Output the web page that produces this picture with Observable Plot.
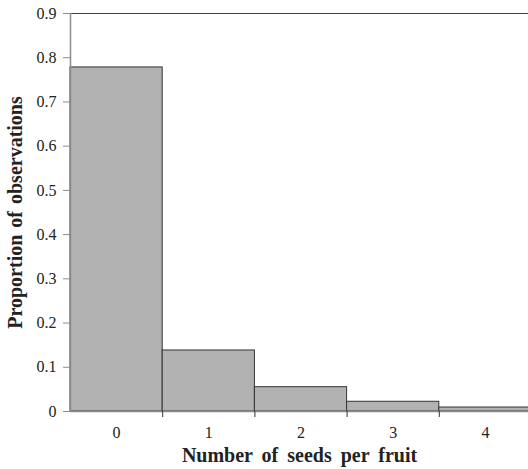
<!DOCTYPE html>
<html>
<head>
<meta charset="utf-8">
<script src="https://cdn.jsdelivr.net/npm/d3@7"></script>
<script src="https://cdn.jsdelivr.net/npm/@observablehq/plot@0.6"></script>
<style>
  html, body { margin: 0; padding: 0; background: white; overflow: hidden; }
  #chart svg { display: block; }
</style>
</head>
<body>
<div id="chart"></div>
<script>
const seeds = [0, 1, 2, 3, 4];
const proportions = [0.778, 0.138, 0.055, 0.022, 0.009];
const yTicks = [0, 0.1, 0.2, 0.3, 0.4, 0.5, 0.6, 0.7, 0.8, 0.9];
const xTitle = "Number of seeds per fruit";
const yTitle = "Proportion of observations";

const data = seeds.map((s, i) => ({seeds: s, prop: proportions[i]}));
const boundaries = seeds.slice(1).map(s => s - 0.5);

const font = "Liberation Serif";

const plot = Plot.plot({
  width: 528,
  height: 469,
  marginTop: 13,
  marginBottom: 58,
  marginLeft: 70,
  marginRight: 0,
  style: {fontFamily: font, fontSize: "16px", color: "#222", background: "white"},
  x: {domain: [-0.5, 4.5], range: [70, 531]},
  y: {domain: [0, 0.9], range: [411, 13]},
  marks: [
    Plot.rectY(data, {
      x1: d => d.seeds - 0.5,
      x2: d => d.seeds + 0.5,
      y: "prop",
      fill: "#b2b2b2",
      stroke: "#333",
      strokeWidth: 1
    }),
    Plot.ruleY([0.9], {stroke: "#404040", strokeWidth: 1.2}),
    Plot.ruleY([0], {stroke: "#8c8c8c", strokeWidth: 1.5}),
    Plot.ruleX([-0.5], {stroke: "#8c8c8c", strokeWidth: 1.5}),
    Plot.axisY({
      ticks: yTicks,
      tickSize: 7,
      tickPadding: 7,
      stroke: "#8c8c8c",
      fill: "#222",
      fontSize: 16,
      tickFormat: d => d === 0 ? "0" : d.toFixed(1),
      label: yTitle,
      labelAnchor: "center",
      labelOffset: 63,
      labelArrow: "none"
    }),
    Plot.axisX({
      ticks: boundaries,
      tickSize: 6,
      tickFormat: () => "",
      stroke: "#333",
      label: null
    }),
    Plot.axisX({
      ticks: seeds,
      tickSize: 0,
      tickPadding: 15,
      fill: "#222",
      fontSize: 16,
      tickFormat: d => String(d),
      label: xTitle,
      labelAnchor: "center",
      labelOffset: 50,
      labelArrow: "none"
    })
  ]
});

plot.querySelectorAll("text").forEach(t => {
  t.setAttribute("font-family", font);
  t.setAttribute("font-size", "16");
  t.style.fontFamily = font;
  t.style.fontSize = "16px";
});
plot.querySelectorAll("g[aria-label='y-axis label'] text, g[aria-label='x-axis label'] text").forEach(t => {
  t.style.fontWeight = "bold";
  t.style.fontSize = "20px";
});
plot.querySelectorAll("g[aria-label='x-axis label'] text").forEach(t => {
  t.style.wordSpacing = "4px";
});
plot.querySelectorAll("g[aria-label='y-axis label'] text").forEach(t => {
  t.style.wordSpacing = "2px";
});

document.getElementById("chart").appendChild(plot);
</script>
</body>
</html>
